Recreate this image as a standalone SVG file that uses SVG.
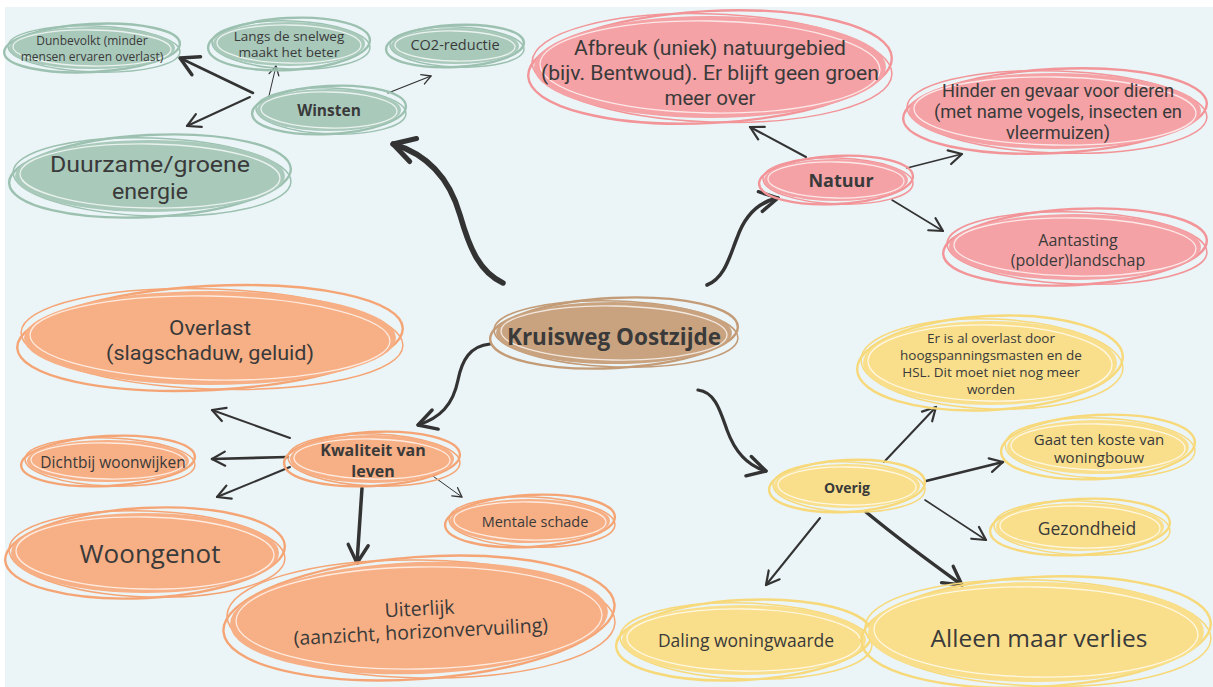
<svg xmlns="http://www.w3.org/2000/svg" width="1213" height="687" viewBox="0 0 1213 687">
<style>
.t{font-family:"Open Sans","Liberation Sans",sans-serif;fill:#3a3a3a;text-anchor:middle;dominant-baseline:central}
.r{font-family:Roboto,"Liberation Sans",sans-serif}
.b{font-weight:bold}
.o{fill:none}
.w{fill:none;stroke:#ffffff;stroke-width:1.3;opacity:.75}
.gF{fill:#A9C9BB}.gS{stroke:#9CC1B0}
.pF{fill:#F4A2A5}.pS{stroke:#F29498}
.oF{fill:#F7AF85}.oS{stroke:#F5A575}
.yF{fill:#F9DF8B}.yS{stroke:#F7D97A}
.kF{fill:#C9A380}.kS{stroke:#C39B76}
.s1{stroke-width:2.4}.s2{stroke-width:1.5}
.c{fill:none;stroke:#333333;stroke-linecap:round;stroke-linejoin:round}
</style>
<defs>
<marker id="a1" viewBox="0 0 14 14" markerWidth="14" markerHeight="14" refX="12" refY="7" orient="auto" markerUnits="userSpaceOnUse"><path d="M3,2 L12,7 L3,12" fill="none" stroke="#333" stroke-width="1.3" stroke-linecap="round" stroke-linejoin="round"/></marker>
<marker id="a2" viewBox="0 0 20 20" markerWidth="20" markerHeight="20" refX="17" refY="10" orient="auto" markerUnits="userSpaceOnUse"><path d="M4,3 L17,10 L4,17" fill="none" stroke="#333" stroke-width="2.2" stroke-linecap="round" stroke-linejoin="round"/></marker>
<marker id="a3" viewBox="0 0 26 26" markerWidth="26" markerHeight="26" refX="22" refY="13" orient="auto" markerUnits="userSpaceOnUse"><path d="M4,3 L22,13 L4,23" fill="none" stroke="#333" stroke-width="3.4" stroke-linecap="round" stroke-linejoin="round"/></marker>
<marker id="a4" viewBox="0 0 32 32" markerWidth="32" markerHeight="32" refX="27" refY="16" orient="auto" markerUnits="userSpaceOnUse"><path d="M6,4 L27,16 L6,28" fill="none" stroke="#333" stroke-width="5" stroke-linecap="round" stroke-linejoin="round"/></marker>
</defs>
<rect x="0" y="0" width="1213" height="687" fill="#ffffff"/>
<rect x="5" y="7" width="1208" height="680" fill="#EBF4F6"/>

<g id="connectors">
<path class="c" d="M503,283 C480,272 470,250 460,215 C450,180 430,155 393,144" stroke-width="5.5" marker-end="url(#a4)"/>
<path class="c" d="M707,285 C725,278 730,255 737,238 C745,215 758,202 778,198" stroke-width="3.5" marker-end="url(#a3)"/>
<path class="c" d="M490,344 C470,346 462,360 458,380 C453,405 440,418 418,425" stroke-width="3.2" marker-end="url(#a3)"/>
<path class="c" d="M698,390 C715,392 720,410 727,430 C735,452 748,466 766,471" stroke-width="3.2" marker-end="url(#a3)"/>
<path class="c" d="M253,93 L180,58" stroke-width="2.6" marker-end="url(#a3)"/>
<path class="c" d="M268,100 L276,66" stroke-width="1" marker-end="url(#a1)"/>
<path class="c" d="M388,93 L431,76" stroke-width="1.3" marker-end="url(#a1)"/>
<path class="c" d="M250,97 L187,126" stroke-width="2" marker-end="url(#a2)"/>
<path class="c" d="M806,157 L750,127" stroke-width="2" marker-end="url(#a2)"/>
<path class="c" d="M907,168 L962,154" stroke-width="1.6" marker-end="url(#a2)"/>
<path class="c" d="M892,200 L943,231" stroke-width="1.6" marker-end="url(#a2)"/>
<path class="c" d="M290,438 L212,410" stroke-width="2" marker-end="url(#a2)"/>
<path class="c" d="M288,457 L212,459" stroke-width="2.6" marker-end="url(#a2)"/>
<path class="c" d="M290,467 L217,497" stroke-width="2" marker-end="url(#a2)"/>
<path class="c" d="M362,488 L357,563" stroke-width="3.5" marker-end="url(#a3)"/>
<path class="c" d="M430,474 L462,497" stroke-width="1" marker-end="url(#a1)"/>
<path class="c" d="M884,462 L936,407" stroke-width="2" marker-end="url(#a2)"/>
<path class="c" d="M926,481 L1003,462" stroke-width="2.6" marker-end="url(#a2)"/>
<path class="c" d="M925,500 L986,540" stroke-width="1.6" marker-end="url(#a2)"/>
<path class="c" d="M820,518 L766,585" stroke-width="2" marker-end="url(#a2)"/>
<path class="c" d="M866,512 C900,540 930,562 962,585" stroke-width="3.5" marker-end="url(#a3)"/>
</g>

<!-- Green -->
<g id="n-dunbevolkt" transform="translate(92,48)">
<ellipse class="o gS s1" rx="88" ry="24" transform="rotate(-3)"/>
<ellipse class="o gS s2" rx="86" ry="23" transform="translate(2,1) rotate(2)"/>
<ellipse class="gF" rx="83" ry="21"/>
<ellipse class="w" rx="79" ry="18" transform="rotate(1)"/>
<text class="t" y="-8" font-size="12">Dunbevolkt (minder</text>
<text class="t" y="8" font-size="12">mensen ervaren overlast)</text>
</g>
<g id="n-langs" transform="translate(289,44)">
<ellipse class="o gS s1" rx="81" ry="26" transform="rotate(-3)"/>
<ellipse class="o gS s2" rx="79" ry="24" transform="translate(2,1) rotate(2)"/>
<ellipse class="gF" rx="76" ry="22"/>
<ellipse class="w" rx="72" ry="19" transform="rotate(1)"/>
<text class="t" y="-8" font-size="13.5">Langs de snelweg</text>
<text class="t" y="8" font-size="13.5">maakt het beter</text>
</g>
<g id="n-co2" transform="translate(455,46)">
<ellipse class="o gS s1" rx="69" ry="21" transform="rotate(-3)"/>
<ellipse class="o gS s2" rx="67" ry="20" transform="translate(2,1) rotate(2)"/>
<ellipse class="gF" rx="64" ry="18"/>
<ellipse class="w" rx="60" ry="15" transform="rotate(1)"/>
<text class="t" y="-2" font-size="14.5">CO2-reductie</text>
</g>
<g id="n-winsten" transform="translate(329,110)">
<ellipse class="o gS s1" rx="77" ry="24" transform="rotate(-3)"/>
<ellipse class="o gS s2" rx="75" ry="23" transform="translate(2,1) rotate(2)"/>
<ellipse class="gF" rx="72" ry="21"/>
<ellipse class="w" rx="68" ry="18" transform="rotate(1)"/>
<text class="t b" y="0" font-size="15.5">Winsten</text>
</g>
<g id="n-duurzaam" transform="translate(150,176)">
<ellipse class="o gS s1" rx="141" ry="41" transform="rotate(-3)"/>
<ellipse class="o gS s2" rx="139" ry="39" transform="translate(2,1) rotate(2)"/>
<ellipse class="gF" rx="135" ry="36"/>
<ellipse class="w" rx="130" ry="32" transform="rotate(1)"/>
<text class="t r" y="-12" font-size="22" textLength="200" lengthAdjust="spacingAndGlyphs">Duurzame/groene</text>
<text class="t r" y="15" font-size="22" textLength="76" lengthAdjust="spacingAndGlyphs">energie</text>
</g>

<!-- Pink -->
<g id="n-afbreuk" transform="translate(710,67)">
<ellipse class="o pS s1" rx="182" ry="56" transform="rotate(-3)"/>
<ellipse class="o pS s2" rx="180" ry="54" transform="translate(2,1) rotate(2)"/>
<ellipse class="pF" rx="176" ry="51"/>
<ellipse class="w" rx="170" ry="46" transform="rotate(1)"/>
<text class="t r" x="0" y="-19" font-size="20" textLength="272" lengthAdjust="spacingAndGlyphs">Afbreuk (uniek) natuurgebied</text>
<text class="t r" x="0" y="6" font-size="20" textLength="338" lengthAdjust="spacingAndGlyphs">(bijv. Bentwoud). Er blijft geen groen</text>
<text class="t r" x="0" y="30.5" font-size="20" textLength="91" lengthAdjust="spacingAndGlyphs">meer over</text>
</g>
<g id="n-hinder" transform="translate(1055,111)">
<ellipse class="o pS s1" rx="152" ry="42" transform="rotate(-3)"/>
<ellipse class="o pS s2" rx="150" ry="41" transform="translate(2,1) rotate(2)"/>
<ellipse class="pF" rx="146" ry="38"/>
<ellipse class="w" rx="141" ry="34" transform="rotate(1)"/>
<text class="t r" x="3" y="-20" font-size="17.5" textLength="232" lengthAdjust="spacingAndGlyphs">Hinder en gevaar voor dieren</text>
<text class="t r" x="3" y="1" font-size="17.5" textLength="248" lengthAdjust="spacingAndGlyphs">(met name vogels, insecten en</text>
<text class="t r" x="3" y="22" font-size="17.5" textLength="104" lengthAdjust="spacingAndGlyphs">vleermuizen)</text>
</g>
<g id="n-natuur" transform="translate(836,180)">
<ellipse class="o pS s1" rx="77" ry="24" transform="rotate(-3)"/>
<ellipse class="o pS s2" rx="75" ry="23" transform="translate(2,1) rotate(2)"/>
<ellipse class="pF" rx="72" ry="21"/>
<ellipse class="w" rx="68" ry="18" transform="rotate(1)"/>
<text class="t b" x="5" y="0" font-size="18">Natuur</text>
</g>
<g id="n-aantasting" transform="translate(1075,247)">
<ellipse class="o pS s1" rx="132" ry="38" transform="rotate(-3)"/>
<ellipse class="o pS s2" rx="130" ry="36" transform="translate(2,1) rotate(2)"/>
<ellipse class="pF" rx="126" ry="33"/>
<ellipse class="w" rx="121" ry="29" transform="rotate(1)"/>
<text class="t" x="3" y="-7" font-size="16">Aantasting</text>
<text class="t" x="3" y="13" font-size="16">(polder)landschap</text>
</g>

<!-- Center -->
<g id="n-kruisweg" transform="translate(614,333)">
<ellipse class="o kS s1" rx="124" ry="35" transform="rotate(-3)"/>
<ellipse class="o kS s2" rx="122" ry="33" transform="translate(2,1) rotate(2)"/>
<ellipse class="kF" rx="118" ry="31"/>
<ellipse class="w" rx="113" ry="27" transform="rotate(1)"/>
<text class="t b" x="0" y="3" font-size="22.5">Kruisweg Oostzijde</text>
</g>

<!-- Orange -->
<g id="n-overlast" transform="translate(210,338)">
<ellipse class="o oS s1" rx="193" ry="52" transform="rotate(-3)"/>
<ellipse class="o oS s2" rx="191" ry="50" transform="translate(2,1) rotate(2)"/>
<ellipse class="oF" rx="186" ry="47"/>
<ellipse class="w" rx="180" ry="42" transform="rotate(1)"/>
<text class="t r" x="0" y="-10" font-size="20.5" textLength="82" lengthAdjust="spacingAndGlyphs">Overlast</text>
<text class="t r" x="0" y="15" font-size="20.5" textLength="208" lengthAdjust="spacingAndGlyphs">(slagschaduw, geluid)</text>
</g>
<g id="n-kwaliteit" transform="translate(372,459)">
<ellipse class="o oS s1" rx="88" ry="27" transform="rotate(-3)"/>
<ellipse class="o oS s2" rx="86" ry="26" transform="translate(2,1) rotate(2)"/>
<ellipse class="oF" rx="82" ry="24"/>
<ellipse class="w" rx="78" ry="20" transform="rotate(1)"/>
<text class="t b" x="1" y="-9.5" font-size="16">Kwaliteit van</text>
<text class="t b" x="1" y="11.5" font-size="16">leven</text>
</g>
<g id="n-dichtbij" transform="translate(108,461)">
<ellipse class="o oS s1" rx="87" ry="25" transform="rotate(-3)"/>
<ellipse class="o oS s2" rx="85" ry="24" transform="translate(2,1) rotate(2)"/>
<ellipse class="oF" rx="81" ry="21"/>
<ellipse class="w" rx="77" ry="18" transform="rotate(1)"/>
<text class="t" x="5" y="1" font-size="15.5">Dichtbij woonwijken</text>
</g>
<g id="n-woongenot" transform="translate(145,553)">
<ellipse class="o oS s1" rx="140" ry="45" transform="rotate(-3)"/>
<ellipse class="o oS s2" rx="138" ry="43" transform="translate(2,1) rotate(2)"/>
<ellipse class="oF" rx="134" ry="40"/>
<ellipse class="w" rx="129" ry="36" transform="rotate(1)"/>
<text class="t" x="5" y="0" font-size="26">Woongenot</text>
</g>
<g id="n-mentale" transform="translate(530,521)">
<ellipse class="o oS s1" rx="85" ry="26" transform="rotate(-3)"/>
<ellipse class="o oS s2" rx="83" ry="25" transform="translate(2,1) rotate(2)"/>
<ellipse class="oF" rx="80" ry="22"/>
<ellipse class="w" rx="76" ry="19" transform="rotate(1)"/>
<text class="t" x="5" y="0" font-size="14.5">Mentale schade</text>
</g>
<g id="n-uiterlijk" transform="translate(419,618)">
<ellipse class="o oS s1" rx="196" ry="61" transform="rotate(-4)"/>
<ellipse class="o oS s2" rx="194" ry="59" transform="translate(2,1) rotate(1)"/>
<ellipse class="oF" rx="189" ry="56" transform="rotate(-2)"/>
<ellipse class="w" rx="183" ry="51" transform="rotate(-1)"/>
<g transform="rotate(-3)">
<text class="t" x="1" y="-10" font-size="19.5">Uiterlijk</text>
<text class="t" x="1" y="13" font-size="19.5">(aanzicht, horizonvervuiling)</text>
</g>
</g>

<!-- Yellow -->
<g id="n-eris" transform="translate(990,363)">
<ellipse class="o yS s1" rx="133" ry="47" transform="rotate(-3)"/>
<ellipse class="o yS s2" rx="131" ry="45" transform="translate(2,1) rotate(2)"/>
<ellipse class="yF" rx="127" ry="42"/>
<ellipse class="w" rx="122" ry="38" transform="rotate(1)"/>
<text class="t" x="1" y="-25" font-size="13.5">Er is al overlast door</text>
<text class="t" x="1" y="-8" font-size="13.5">hoogspanningsmasten en de</text>
<text class="t" x="1" y="9" font-size="13.5">HSL. Dit moet niet nog meer</text>
<text class="t" x="1" y="26" font-size="13.5">worden</text>
</g>
<g id="n-gaat" transform="translate(1098,447)">
<ellipse class="o yS s1" rx="97" ry="32" transform="rotate(-3)"/>
<ellipse class="o yS s2" rx="95" ry="30" transform="translate(2,1) rotate(2)"/>
<ellipse class="yF" rx="91" ry="27"/>
<ellipse class="w" rx="87" ry="23" transform="rotate(1)"/>
<text class="t" x="1" y="-8" font-size="15">Gaat ten koste van</text>
<text class="t" x="1" y="10" font-size="15">woningbouw</text>
</g>
<g id="n-overig" transform="translate(847,486)">
<ellipse class="o yS s1" rx="78" ry="26" transform="rotate(-3)"/>
<ellipse class="o yS s2" rx="76" ry="25" transform="translate(2,1) rotate(2)"/>
<ellipse class="yF" rx="73" ry="22"/>
<ellipse class="w" rx="69" ry="19" transform="rotate(1)"/>
<text class="t b" x="0" y="1" font-size="14">Overig</text>
</g>
<g id="n-gezondheid" transform="translate(1080,527)">
<ellipse class="o yS s1" rx="90" ry="28" transform="rotate(-3)"/>
<ellipse class="o yS s2" rx="88" ry="27" transform="translate(2,1) rotate(2)"/>
<ellipse class="yF" rx="84" ry="24"/>
<ellipse class="w" rx="80" ry="21" transform="rotate(1)"/>
<text class="t" x="7" y="1" font-size="17.5">Gezondheid</text>
</g>
<g id="n-daling" transform="translate(744,640)">
<ellipse class="o yS s1" rx="128" ry="40" transform="rotate(-3)"/>
<ellipse class="o yS s2" rx="126" ry="38" transform="translate(2,1) rotate(2)"/>
<ellipse class="yF" rx="122" ry="35"/>
<ellipse class="w" rx="117" ry="31" transform="rotate(1)"/>
<text class="t" x="2" y="0" font-size="17.5">Daling woningwaarde</text>
</g>
<g id="n-alleen" transform="translate(1036,632)">
<ellipse class="o yS s1" rx="175" ry="55" transform="rotate(-3)"/>
<ellipse class="o yS s2" rx="173" ry="53" transform="translate(2,1) rotate(2)"/>
<ellipse class="yF" rx="168" ry="50"/>
<ellipse class="w" rx="162" ry="45" transform="rotate(1)"/>
<text class="t" x="3" y="5" font-size="24.5">Alleen maar verlies</text>
</g>
</svg>
